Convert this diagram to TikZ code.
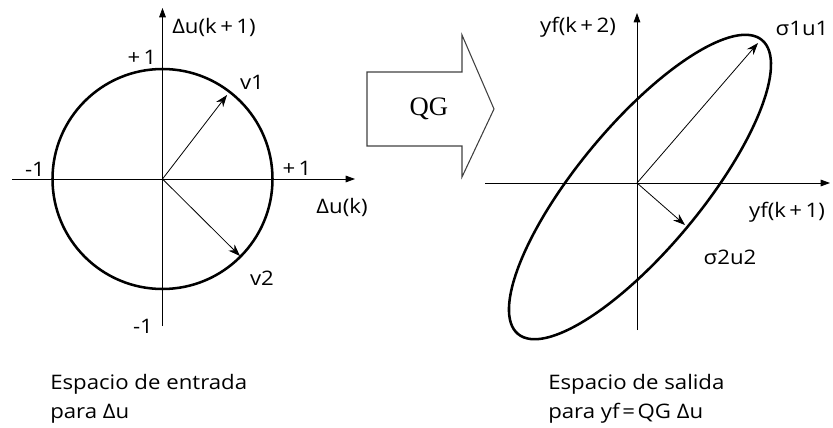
\documentclass[tikz,border=0pt]{standalone}
\usepackage{fontspec}
\setmainfont{Open Sans}[FakeStretch=1.11]
\newfontfamily\qgfont{Liberation Serif}
\usetikzlibrary{arrows.meta}
\newcommand{\plusop}{\hspace{2.6pt}+\hspace{2.6pt}}
\begin{document}
\begin{tikzpicture}[x=0.75pt,y=-0.75pt,
  axisline/.style={line width=0.6pt,-{Triangle[length=7pt,width=5pt]}},
  vecline/.style={line width=0.6pt,-{Stealth[length=9pt,width=6.5pt]}},
  curve/.style={line width=1.9pt},
  lbl/.style={inner sep=0pt,font=\fontsize{15}{18}\selectfont},
  caption/.style={inner sep=0pt,anchor=base west,font=\fontsize{15}{18}\selectfont},
  blockarrow/.style={draw=black!75,line width=0.8pt}]
\useasboundingbox (0,0) rectangle (833,428);
% ---------- left panel ----------
\coordinate (O1) at (162.5,179);
\coordinate (L1b) at (162.5,326);
\coordinate (L1t) at (162.5,8);
\coordinate (L1l) at (12,179);
\coordinate (L1r) at (355,179);
\coordinate (V1) at (227,95);
\coordinate (V2) at (240,256);
\draw[axisline] (L1b) -- (L1t);
\draw[axisline] (L1l) -- (L1r);
\draw[curve] (O1) circle [radius=110];
\draw[vecline] (O1) -- (V1);
\draw[vecline] (O1) -- (V2);
\node[lbl,anchor=west] (ax1) at (172,27) {Δu(k\plusop 1)};
\node[lbl] (p1t) at (142,57) {+\,1};
\node[lbl] (v1) at (252,82) {v1};
\node[lbl] (m1l) at (35,169) {-1};
\node[lbl] (p1r) at (297,168) {+\,1};
\node[lbl] (ax2) at (342,207) {Δu(k)};
\node[lbl] (v2) at (262,278) {v2};
\node[lbl] (m1b) at (143,326) {-1};
\node[caption] (c1a) at (50,389) {Espacio de entrada};
\node[caption] (c1b) at (50,418) {para Δu};
% ---------- block arrow ----------
\draw[blockarrow] (367,72) -- (462,72) -- (462,35) -- (494,109) -- (462,177) -- (462,146) -- (367,146) -- cycle;
\node[inner sep=0pt,font=\qgfont\fontsize{20}{22}\selectfont] (qg) at (429,109) {QG};
% ---------- right panel ----------
\coordinate (O2) at (637,183);
\coordinate (E) at (640,187);
\coordinate (R2b) at (637,330);
\coordinate (R2t) at (637,13);
\coordinate (R2l) at (485,183);
\coordinate (R2r) at (830,183);
\coordinate (S1) at (758,43);
\coordinate (S2) at (685,225);
\draw[axisline] (R2b) -- (R2t);
\draw[axisline] (R2l) -- (R2r);
\draw[curve,rotate around={50.3:(E)}] (E) ellipse [x radius=191, y radius=62];
\draw[vecline] (O2) -- (S1);
\draw[vecline] (O2) -- (S2);
\node[lbl] (ay1) at (578,27) {yf(k\plusop 2)};
\node[lbl] (s1) at (802,28) {σ1u1};
\node[lbl] (ay2) at (787,212) {yf(k\plusop 1)};
\node[lbl] (s2) at (730,257) {σ2u2};
\node[caption] (c2a) at (548,389) {Espacio de salida};
\node[caption] (c2b) at (548,418) {para yf\hspace{2pt}=\hspace{2pt}QG Δu};
\end{tikzpicture}
\end{document}
